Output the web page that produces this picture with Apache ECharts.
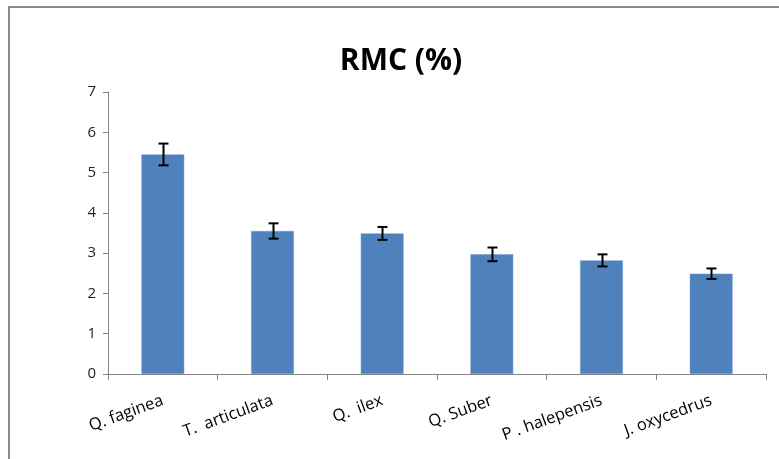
<!DOCTYPE html>
<html><head><meta charset="utf-8">
<script src="https://cdn.jsdelivr.net/npm/echarts@6/dist/echarts.min.js"></script>
<style>html,body{margin:0;padding:0;background:#fff}#c{width:779px;height:459px}</style>
</head><body><div id="c"></div>
<script>
const categories = ['Q. faginea', 'T.  articulata', 'Q.  ilex', 'Q. Suber', 'P . halepensis', 'J. oxycedrus'];
const values = [5.45, 3.55, 3.49, 2.97, 2.82, 2.49];
const errors = [0.27, 0.19, 0.16, 0.17, 0.15, 0.13];
const yTicks = [0, 1, 2, 3, 4, 5, 6, 7];

const chart = echarts.init(document.getElementById('c'));
const font = '"Open Sans", "DejaVu Sans", sans-serif';
chart.setOption({
  animation: false,
  title: {
    text: 'RMC (%)', left: 396, top: 41, textAlign: 'center',
    textStyle: { fontFamily: font, fontWeight: 'bold', fontSize: 30, color: '#000' }
  },
  grid: { left: 108, right: 13, top: 92, bottom: 85, containLabel: false },
  xAxis: {
    type: 'category', data: categories,
    axisLine: { lineStyle: { color: '#868686', width: 1 } },
    axisTick: { show: true, length: 6, alignWithLabel: false, lineStyle: { color: '#868686' } },
    axisLabel: { rotate: 20, margin: 26, interval: 0, fontFamily: font, fontSize: 16.5, color: '#000' }
  },
  yAxis: {
    type: 'value', min: yTicks[0], max: yTicks[yTicks.length - 1], interval: 1,
    axisLine: { show: true, lineStyle: { color: '#868686', width: 1 } },
    axisTick: { show: true, length: 5, lineStyle: { color: '#868686' } },
    splitLine: { show: false },
    axisLabel: { margin: 12, fontFamily: font, fontSize: 15, color: '#222' }
  },
  series: [
    {
      type: 'bar', data: values, barWidth: '39%',
      itemStyle: { color: '#4F81BD', borderColor: '#7099cc', borderWidth: 0.5 }
    },
    {
      type: 'custom',
      data: values.map((v, i) => [i, v - errors[i], v + errors[i]]),
      encode: { x: 0, y: [1, 2] },
      z: 10,
      renderItem: function (params, api) {
        const lo = api.coord([api.value(0), api.value(1)]);
        const hi = api.coord([api.value(0), api.value(2)]);
        const x = Math.round(lo[0]) + 0.5;
        const hw = 5;
        const st = { stroke: '#000', lineWidth: 2 };
        return {
          type: 'group',
          children: [
            { type: 'line', shape: { x1: x, y1: hi[1], x2: x, y2: lo[1] }, style: st },
            { type: 'line', shape: { x1: x - hw, y1: hi[1], x2: x + hw, y2: hi[1] }, style: st },
            { type: 'line', shape: { x1: x - hw, y1: lo[1], x2: x + hw, y2: lo[1] }, style: st }
          ]
        };
      }
    }
  ],
  graphic: [
    { type: 'line', shape: { x1: 9, y1: 7, x2: 779, y2: 7 }, style: { stroke: '#8a8a8a', lineWidth: 2 } },
    { type: 'line', shape: { x1: 9, y1: 6, x2: 9, y2: 459 }, style: { stroke: '#8a8a8a', lineWidth: 2 } }
  ]
});
</script></body></html>
